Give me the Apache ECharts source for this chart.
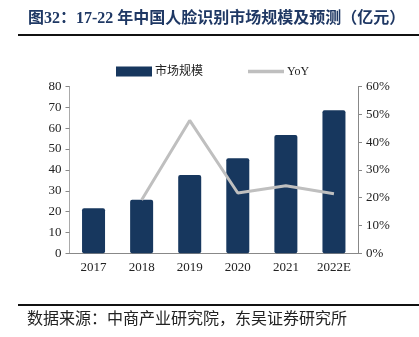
<!DOCTYPE html>
<html><head><meta charset="utf-8">
<script src="https://cdn.jsdelivr.net/npm/echarts@6/dist/echarts.min.js"></script>
<style>html,body{margin:0;padding:0;background:#fff}#c{width:419px;height:337px}</style>
</head><body><div id="c"></div>
<script>
var categories = ['2017', '2018', '2019', '2020', '2021', '2022E'];
var marketSize = [21.6, 25.7, 37.6, 45.6, 56.7, 68.6];
var yoy = [null, 19.2, 47.8, 21.7, 24.3, 21.4];
var leftTicks = [0, 80, 10];
var rightTicks = [0, 60, 10];

var chart = echarts.init(document.getElementById('c'), null, {renderer: 'canvas'});
var serif = '"Liberation Serif", "Noto Sans CJK SC", serif';
chart.setOption({
  animation: false,
  backgroundColor: '#fff',
  graphic: [
    {type: 'text', left: 28, top: 11, style: {text: '图32：17-22 年中国人脸识别市场规模及预测（亿元）', font: 'bold 16px ' + serif, fill: '#1f3864'}},
    {type: 'line', shape: {x1: 18, y1: 35, x2: 419, y2: 35}, style: {stroke: '#111', lineWidth: 1.8}},
    {type: 'line', shape: {x1: 18, y1: 305, x2: 419, y2: 305}, style: {stroke: '#111', lineWidth: 1.8}},
    {type: 'text', left: 27, top: 312, style: {text: '数据来源：中商产业研究院，东吴证券研究所', font: '16px ' + serif, fill: '#222'}}
  ],
  legend: {
    top: 60.5, left: 111, itemGap: 45, itemWidth: 36, itemHeight: 10,
    textStyle: {fontFamily: serif, fontSize: 12, color: '#222', padding: [0,0,0,-2]},
    data: [{name: '市场规模', icon: 'rect'},
           {name: 'YoY', icon: 'path://M0,0 L32,0 L32,3 L0,3 Z', itemStyle: {color: '#bfbfbf'}}]
  },
  grid: {left: 69.5, right: 61, top: 86.5, bottom: 83.7, containLabel: false},
  xAxis: {
    type: 'category', data: categories,
    axisLine: {lineStyle: {color: '#888'}},
    axisTick: {inside: true, length: 3, lineStyle: {color: '#888'}},
    axisLabel: {fontFamily: serif, fontSize: 13, color: '#222', margin: 8}
  },
  yAxis: [
    {type: 'value', min: leftTicks[0], max: leftTicks[1], interval: leftTicks[2],
     axisLine: {show: true, lineStyle: {color: '#aaa'}},
     axisTick: {show: true, length: 4, lineStyle: {color: '#888'}},
     splitLine: {show: false},
     axisLabel: {fontFamily: serif, fontSize: 13, color: '#222', margin: 8}},
    {type: 'value', min: rightTicks[0], max: rightTicks[1], interval: rightTicks[2],
     axisLine: {show: true, lineStyle: {color: '#888'}},
     axisTick: {show: true, length: 4, lineStyle: {color: '#888'}},
     splitLine: {show: false},
     axisLabel: {fontFamily: serif, fontSize: 13, color: '#222', margin: 8, formatter: '{value}%'}}
  ],
  series: [
    {name: '市场规模', type: 'bar', data: marketSize, barWidth: 23,
     itemStyle: {color: '#17375e', borderRadius: 2}},
    {name: 'YoY', type: 'line', yAxisIndex: 1, data: yoy, symbol: 'none',
     lineStyle: {color: '#bfbfbf', width: 3}, itemStyle: {color: '#bfbfbf'}}
  ]
});
</script></body></html>
